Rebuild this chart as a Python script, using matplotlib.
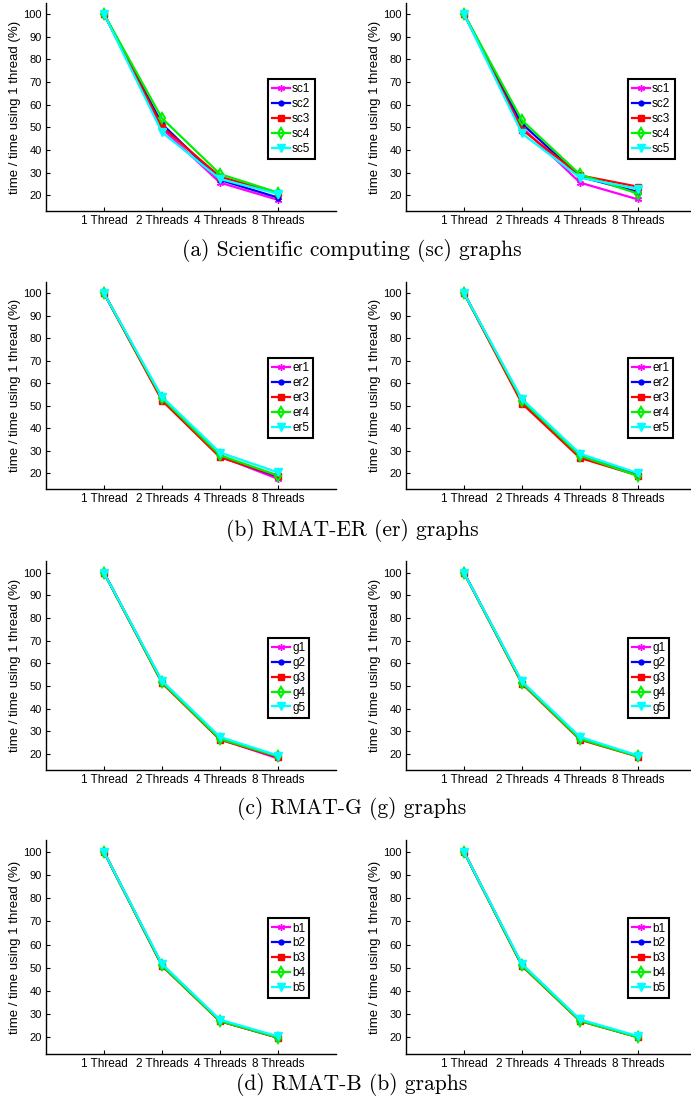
import numpy as np
import matplotlib
matplotlib.use('Agg')
import matplotlib.pyplot as plt

threads = ['1 Thread', '2 Threads', '4 Threads', '8 Threads']
x = np.arange(1, 5)

colors = ['#ff00ff', '#0000ff', '#ff0000', '#00f000', '#00ffff']

# (a) scientific computing
sc_left = [[100, 49.5, 25.6, 18.0],
           [100, 51.5, 26.8, 19.0],
           [100, 50.3, 28.2, 20.9],
           [100, 54.0, 29.4, 21.2],
           [100, 47.8, 27.2, 20.6]]
sc_right = [[100, 50.0, 25.6, 18.2],
            [100, 51.6, 28.2, 21.5],
            [100, 49.0, 28.8, 23.8],
            [100, 53.1, 29.2, 20.7],
            [100, 47.3, 27.8, 22.9]]
# (b) RMAT-ER
er_left = [[100, 53.0, 27.5, 17.5],
           [100, 53.0, 27.5, 18.5],
           [100, 52.3, 27.1, 18.8],
           [100, 53.3, 28.0, 19.0],
           [100, 54.0, 29.2, 20.4]]
er_right = [[100, 52.0, 27.6, 19.2],
            [100, 52.0, 27.5, 19.2],
            [100, 51.0, 26.8, 19.0],
            [100, 52.3, 27.8, 18.8],
            [100, 53.0, 28.7, 20.0]]
# (c) RMAT-G
g_left = [[100, 51.8, 26.5, 18.0],
          [100, 51.8, 26.7, 18.6],
          [100, 51.3, 26.3, 18.6],
          [100, 51.6, 26.6, 18.9],
          [100, 52.3, 27.5, 19.3]]
g_right = [[100, 51.5, 26.8, 19.0],
           [100, 51.5, 26.8, 19.0],
           [100, 51.0, 26.3, 18.8],
           [100, 51.3, 26.6, 18.9],
           [100, 52.0, 27.5, 19.3]]
# (d) RMAT-B
b_left = [[100, 51.0, 27.0, 19.8],
          [100, 51.2, 27.1, 20.0],
          [100, 50.8, 26.9, 19.8],
          [100, 51.0, 27.0, 19.9],
          [100, 51.7, 27.6, 20.4]]
b_right = [[100, 51.0, 27.2, 20.1],
           [100, 51.2, 27.3, 20.2],
           [100, 50.8, 27.0, 20.0],
           [100, 51.0, 27.1, 20.0],
           [100, 51.7, 27.7, 20.5]]

panels = [('sc', sc_left, sc_right, '(a) Scientific computing (sc) graphs'),
          ('er', er_left, er_right, '(b) RMAT-ER (er) graphs'),
          ('g', g_left, g_right, '(c) RMAT-G (g) graphs'),
          ('b', b_left, b_right, '(d) RMAT-B (b) graphs')]

W, H = 691, 1102
rows_px = [(2.7, 211.2, 250), (282, 489, 530), (561.4, 769.8, 808), (840.4, 1053.5, 1085)]
lefts_px = [46, 406]

markers = [dict(marker=(6, 2, 0), ms=5, mew=1.0),
           dict(marker='o', ms=3.5),
           dict(marker='s', ms=4.5),
           dict(marker='d', ms=5.5, mfc='none', mew=1.5),
           dict(marker='v', ms=6)]

fig = plt.figure(figsize=(W / 100, H / 100), dpi=100)

for (prefix, left, right, caption), (top, bot, capy) in zip(panels, rows_px):
    for data, lx in zip([left, right], lefts_px):
        ax = fig.add_axes([lx / W, 1 - bot / H, 290 / W, (bot - top) / H])
        for i, series in enumerate(data):
            ax.plot(x, series, color=colors[i], lw=1.6,
                    label=f'{prefix}{i + 1}', **markers[i])
        ax.set_xlim(0, 5)
        ax.set_ylim(13, 105)
        ax.set_xticks(x)
        ax.set_xticklabels(threads, fontsize=8.5, family='Liberation Sans')
        ax.set_yticks(np.arange(20, 101, 10))
        for t in ax.get_yticklabels():
            t.set_fontsize(8)
            t.set_family('Liberation Sans')
        ax.tick_params(direction='in', length=3, width=0.8, pad=3)
        ax.spines['top'].set_visible(False)
        ax.spines['right'].set_visible(False)
        ax.spines['left'].set_linewidth(1.0)
        ax.spines['bottom'].set_linewidth(1.0)
        ax.set_ylabel('time / time using 1 thread (%)', fontsize=9.5,
                      family='Liberation Sans', labelpad=2)
        leg = ax.legend(loc='upper left', bbox_to_anchor=(0.765, 0.634),
                        borderaxespad=0, handlelength=1.5, handletextpad=0.2,
                        labelspacing=0.25, borderpad=0.35, fancybox=False,
                        framealpha=1, prop={'family': 'Liberation Sans', 'size': 8.5})
        leg.get_frame().set_edgecolor('black')
        leg.get_frame().set_linewidth(1.5)
    fig.text(352 / W, 1 - capy / H, caption, ha='center', va='center',
             fontsize=15.5, family='cmr10')

fig.savefig('out.png', dpi=100)
